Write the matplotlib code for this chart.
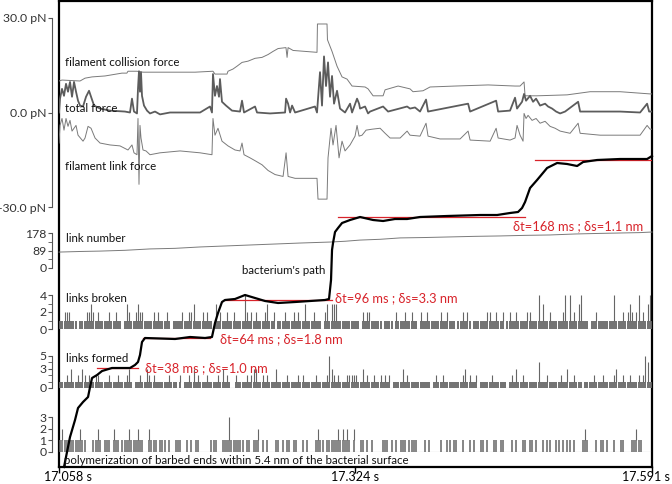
import numpy as np
import matplotlib.pyplot as plt
from matplotlib.transforms import ScaledTranslation

plt.rcParams['font.family'] = ['Lato', 'DejaVu Sans']

# time is in ms after 17.058 s
x_max_ms = 533
xtick_ms = [0, 266, 533]
xtick_labels = ['17.058 s', '17.324 s', '17.591 s']

# forces (ms, pN)
collision_force = [(0, 10.0), (2.7, 10.3), (18.9, 10.0), (23.4, 10.9), (29.7, 11.3), (41.4, 11.6),
                   (56.6, 12.5), (61, 12.5), (62, 13.1), (70.1, 13.1), (75.5, 12.8), (101.6, 12.8),
                   (122.3, 12.8), (138.4, 13.1), (140.2, 12.2), (151, 12.2), (151.9, 13.1), (156.4, 13.8),
                   (160, 14.7), (164.5, 15.9), (169.9, 16.3), (176.2, 17.2), (182.5, 17.5), (187.9, 18.4),
                   (192.4, 19.4), (196.9, 20.3), (204, 20.6), (205, 17.5), (205.9, 20.6), (210.4, 19.7),
                   (231.9, 19.1), (232.3, 28.1), (240.9, 28.1), (241.3, 23.1), (245.4, 19.4), (249.9, 14.7),
                   (254.4, 11.3), (258.9, 10.6), (263.4, 8.4), (275.1, 8.1), (277.8, 7.5), (282.3, 5.3),
                   (291.3, 5.3), (293.1, 7.2), (304.8, 8.4), (315.5, 7.5), (318.2, 6.6), (327.2, 6.9),
                   (333.5, 8.1), (356, 8.4), (385.7, 8.75), (409.9, 8.4), (414.4, 8.4), (418, 9.7),
                   (418.9, 5.3), (429.7, 5.3), (456.7, 5.6), (477.4, 6.6), (504.3, 6.6), (531.3, 5.9),
                   (533, 5.9)]

total_force = [(0, 0), (0.9, 4.4), (2.7, 7.5), (4.5, 5.3), (6.3, 9.1), (8.1, 6.6), (9.9, 9.7),
               (11.7, 5.0), (13.5, 9.7), (15.3, 6.6), (17.1, 3.75), (18.9, 2.2), (21.6, 1.9), (24.3, 5.0),
               (27, 6.9), (28.8, 5.0), (31.5, 2.2), (36.9, 1.25), (45.8, 0.6), (59.3, 0.3), (63.8, 0),
               (65.6, 4.4), (67.4, 0.3), (70.1, -0.3), (71, 7.5), (71.9, 13.1), (72.8, 6.6), (73.7, 12.8),
               (74.6, 5.3), (76.4, 2.2), (79.1, 0.6), (81.8, -0.3), (86.3, 0.3), (90.8, -0.6), (99.8, 0),
               (113.3, 0), (126.8, 0), (135.7, 1.9), (137.5, 0), (138.4, 12.2), (140.2, 5.3), (142, 8.4),
               (143.8, 5.0), (144.7, 10.6), (146.5, 3.4), (150.1, 2.2), (155.5, 0.6), (162.7, 0.3),
               (164.5, 3.75), (166.3, 0), (176.2, 1.9), (178, 0), (189.7, -0.3), (203.2, 0), (204.1, 4.4),
               (205.9, 2.8), (207.7, 0), (209.5, 2.2), (212.2, 0), (230.1, 1.9), (231.9, 0), (234.6, 12.8),
               (236.4, 2.2), (238.2, 17.8), (240, 8.4), (241.8, 15.9), (243.6, 5.0), (245.4, 11.6),
               (247.2, 2.8), (249.9, 6.9), (252.6, 1.25), (257.1, 0), (261.6, 2.8), (263.4, 0),
               (267.9, 4.4), (269.7, 2.8), (270.6, 1.25), (275.1, 1.9), (277.8, -0.3), (279.6, 0.3),
               (291.3, 1.9), (295.8, 0.3), (312.9, 1.9), (315.5, 1.25), (320, 1.6), (324.5, 0.3),
               (329.9, 4.1), (331.7, 0.3), (367.7, 2.8), (369.5, 0.3), (392.9, 3.75), (394.7, 0.3),
               (405.4, 0.6), (409.9, 4.7), (411.7, 1.25), (416.2, 3.4), (418, 5.9), (419.8, 3.75),
               (423.4, 5.3), (426.1, 3.4), (428.8, 4.4), (432.4, 2.2), (436.9, 2.8), (439.6, 1.9),
               (443.2, 1.25), (446.8, 0.3), (450.4, -0.3), (454.9, 0.3), (466.6, 3.4), (468.4, 0.3),
               (486.4, 0.3), (504.3, 0.3), (522.3, 0), (528.6, 2.8), (530.4, 0.3), (533, 0.3)]

link_force = [(0, -9.7), (0.9, -4.1), (2.7, -1.9), (4.5, -5.6), (6.3, -1.9), (8.1, -4.4), (9.9, -2.5),
              (11.7, -5.9), (15.3, -4.1), (17.1, -7.2), (21.6, -9.1), (23.4, -8.1), (26.1, -4.4),
              (28.8, -5.0), (32.4, -8.1), (36.9, -9.7), (45.8, -10.3), (54.8, -10.6), (62, -11.9),
              (65.6, -10.3), (67.4, -12.8), (70.1, -13.4), (71, -1.9), (71.9, -22.8), (72.8, -4.1),
              (73.7, -8.1), (75.5, -11.9), (78.2, -12.2), (81.8, -13.4), (90.8, -12.8), (108.8, -12.2),
              (126.8, -12.8), (137.5, -13.4), (138.4, -1.9), (140.2, -7.2), (142.9, -5.0), (146.5, -9.1),
              (151.9, -10.6), (158.2, -11.9), (162.7, -12.2), (164.5, -9.7), (166.3, -13.4),
              (171.7, -14.4), (176.2, -15.3), (182.5, -16.6), (187.9, -18.4), (194.2, -19.7),
              (201.4, -20.3), (204.1, -12.8), (205.9, -20.3), (212.2, -20.9), (231.9, -20.9),
              (232.8, -27.5), (240.9, -27.5), (241.8, -14.4), (244.5, -5.0), (246.3, -10.3), (249, -4.1),
              (251.7, -14.4), (254.4, -9.1), (257.1, -12.2), (261.6, -10.3), (266.1, -7.5), (267.9, -4.1),
              (269.7, -7.5), (272.4, -7.2), (276, -5.6), (281.4, -5.3), (288.6, -5.0), (293.1, -6.6),
              (297.6, -8.1), (306.6, -8.1), (312.9, -5.9), (315.5, -7.2), (324.5, -7.5), (329.9, -3.4),
              (331.7, -7.5), (342.5, -8.4), (360.5, -8.4), (367.7, -5.9), (369.5, -8.75), (387.5, -9.1),
              (392.9, -5.0), (394.7, -8.1), (405.4, -8.75), (409.9, -8.1), (411.7, -4.1), (414.4, -7.2),
              (417.1, -9.1), (418, -0.3), (419.8, -1.9), (421.6, -0.9), (425.2, -2.5), (428.8, -1.9),
              (432.4, -3.4), (436.9, -2.8), (441.4, -4.4), (445.9, -5.0), (450.4, -5.9), (459.4, -6.6),
              (466.6, -3.4), (468.4, -6.6), (486.4, -7.2), (504.3, -7.2), (522.3, -7.2), (528.6, -4.1),
              (531.3, -5.3), (533, -5.3)]

# number of links (ms, count)
link_number = [(0, 81), (18.9, 84), (36.9, 86), (59.3, 90), (81.8, 97), (104.3, 100), (126.8, 107),
               (149.2, 112), (171.7, 117), (194.2, 122), (216.7, 127), (243.6, 132), (257.1, 136),
               (270.6, 142), (288.6, 146), (306.6, 153), (329, 155), (351.5, 158), (374, 161),
               (396.5, 163), (419, 166), (441.4, 168), (463.9, 173), (486.4, 176), (504.3, 178),
               (522.3, 180), (533, 183)]

# bacterium position (ms, nm)
path = [(4.5, 0), (7.2, 1.5), (9.9, 3.0), (14.4, 4.7), (17.1, 5.9), (21.6, 6.5), (26.1, 7.0),
        (27.9, 8.0), (29.7, 8.9), (34.2, 9.2), (38.7, 9.6), (47.6, 9.9), (63.8, 9.9), (68.3, 10.2),
        (71, 10.5), (72.8, 11.2), (74.6, 12.5), (77.3, 12.9), (104.3, 12.8), (117.8, 13.0),
        (131.3, 12.9), (137.5, 13.0), (140.2, 14.4), (142.9, 15.4), (146.5, 16.5), (149.2, 16.7),
        (158.2, 16.8), (167.2, 17.2), (176.2, 16.9), (185.2, 16.6), (196.9, 16.4), (212.2, 16.5),
        (239.1, 16.7), (242.7, 16.8), (244.5, 18.7), (245.4, 21.7), (246.3, 22.4), (248.1, 23.5),
        (250.8, 23.9), (254.4, 24.4), (261.6, 24.7), (270.6, 25.0), (282.3, 24.7), (291.3, 24.6),
        (302, 24.8), (312.9, 24.8), (324.5, 25.0), (348.8, 25.1), (378.5, 25.2), (393.8, 25.2),
        (405.4, 25.4), (412.6, 25.5), (416.2, 25.9), (418.9, 26.5), (423.4, 27.9), (429.7, 28.7),
        (438.7, 29.9), (447.7, 30.4), (456.7, 30.3), (465.7, 30.1), (471.1, 30.5), (483.7, 30.7),
        (504.3, 30.8), (528.6, 30.8), (533, 31.1)]

# pauses of the path: start ms, end ms, level nm
pauses = [(34.2, 71.0, 9.9), (75.5, 135.7, 12.9), (149.2, 245.4, 16.7),
          (250.8, 418.9, 25.0), (427.9, 533, 30.7)]
pause_labels = ['δt=38 ms ; δs=1.0 nm', 'δt=64 ms ; δs=1.8 nm',
                'δt=96 ms ; δs=3.3 nm', 'δt=168 ms ; δs=1.1 nm']

# event counts per 2 ms bin
bin_ms = 2
links_broken = ("1122211101" "1122321211" "1121121101" "3211232211" "1121211121"
                "0111121122" "3111212110" "3121121121" "1114212121" "1123112011"
                "1211121211" "3111211102" "3133311111" "1111102122" "1111101111"
                "0211121121" "1021121111" "1211211101" "1212101111" "1122112112"
                "0121121111" "2211141311" "2111112414" "1213411101" "1211111114"
                "1112123212" "4121341")
links_formed = ("1112131121" "3212112211" "1121112111" "2310112113" "2121111112"
                "1110201121" "3121112111" "1213121002" "1111212331" "1212111311"
                "1121111212" "1111121111" "2532121112" "2222113121" "1211212120"
                "1111312111" "1111111012" "1121111111" "1231211201" "1111211111"
                "1012131121" "1111141112" "1111121131" "1211101111" "2111211112"
                "3112112111" "2125411")
polymerization = ("1211111112" "1100011210" "1110211011" "1211121100" "2111011101"
                  "0011100101" "0110000011" "1001113111" "1110110112" "0101000110"
                  "1011011001" "0100012110" "1111121212" "1020011010" "1000011101"
                  "0101110111" "1000101000" "0100110110" "0100101001" "1010011011"
                  "0001010011" "0110100101" "1001101011" "0100012100" "0101101001"
                  "0011000112" "1100000")

W, H = 672, 484
LEFT, RIGHT = 59, 652
fig = plt.figure(figsize=(W / 100, H / 100), dpi=100)


def px_axes(top, bottom):
    return fig.add_axes([LEFT / W, 1 - bottom / H, (RIGHT - LEFT) / W, (bottom - top) / H])


def left_scale(ax, lo, hi, major, labels, minor=()):
    for s in ['top', 'right', 'bottom']:
        ax.spines[s].set_visible(False)
    ax.spines['left'].set_position(('outward', 5))
    ax.spines['left'].set_bounds(lo, hi)
    ax.spines['left'].set_color('#555555')
    ax.set_xlim(0, x_max_ms)
    ax.set_ylim(lo, hi)
    ax.set_xticks([])
    ax.set_yticks(major)
    ax.set_yticklabels(labels)
    ax.set_yticks(minor, minor=True)
    ax.tick_params(axis='y', which='both', length=3, color='#555555', labelsize=8.8,
                   labelcolor='#333333', pad=1)
    ax.patch.set_alpha(0)


def event_band(ax, counts, lw_base=1.3):
    c = np.array([int(ch) for ch in counts])
    t = np.arange(len(c)) * bin_ms + bin_ms / 2
    k = c > 0
    ax.axhline(0, color='#888888', lw=0.8)
    ax.vlines(t[k], 0, 1, color='#666666', lw=lw_base)
    k2 = c > 1
    ax.vlines(t[k2], 1, c[k2], color='#666666', lw=0.8)


# outer frame with time axis
frame = px_axes(1, 467)
frame.set_xlim(0, x_max_ms)
frame.set_yticks([])
frame.set_xticks(xtick_ms)
frame.set_xticklabels(xtick_labels)
frame.tick_params(axis='x', length=4, width=1, labelsize=9, pad=0.5)
shifts = [9, 0, -6]
for lab, dx in zip(frame.get_xticklabels(), shifts):
    lab.set_transform(lab.get_transform() + ScaledTranslation(dx / 100, 2.5 / 100, fig.dpi_scale_trans))
for s in frame.spines.values():
    s.set_linewidth(1.6)

# forces
ax_f = px_axes(18, 207)
left_scale(ax_f, -30, 30, [-30, 0, 30], ['-30.0 pN', '0.0 pN', '30.0 pN'])
for series, col, lw in [(collision_force, '#7a7a7a', 0.7), (link_force, '#7a7a7a', 0.7),
                        (total_force, '#5c5c5c', 1.3)]:
    t, v = zip(*series)
    ax_f.plot(t, v, color=col, lw=lw)

# link number
ax_n = px_axes(233, 268)
left_scale(ax_n, 0, 178, [0, 89, 178], ['0', '89', '178'], [44.5, 133.5])
t, v = zip(*link_number)
ax_n.plot(t, v, color='#7a7a7a', lw=0.7, clip_on=False)

# links broken
ax_b = px_axes(295, 329)
left_scale(ax_b, 0, 4, [0, 2, 4], ['0', '2', '4'], [1, 3])
event_band(ax_b, links_broken)

# links formed
ax_l = px_axes(356, 388)
left_scale(ax_l, 0, 5, [0, 3, 5], ['0', '3', '5'], [1, 2, 4])
event_band(ax_l, links_formed)

# polymerization
ax_p = px_axes(417, 452)
left_scale(ax_p, 0, 3, [0, 1, 2, 3], ['0', '1', '2', '3'])
event_band(ax_p, polymerization, lw_base=1.1)

# bacterium's path over everything
ax_s = px_axes(1, 467)
ax_s.set_xlim(0, x_max_ms)
ax_s.set_ylim(0, 46.6)
ax_s.axis('off')
red = '#d8232a'
for t0, t1, lev in pauses:
    ax_s.plot([t0, t1], [lev, lev], color=red, lw=0.9)
t, v = zip(*path)
ax_s.plot(t, v, color='black', lw=1.6, clip_on=False)

ax_s.text(77.3, 9.9, pause_labels[0], color=red, fontsize=9.3, va='center')
ax_s.text(144.7, 12.8, pause_labels[1], color=red, fontsize=9.3, va='center')
ax_s.text(248, 16.9, pause_labels[2], color=red, fontsize=9.3, va='center')
ax_s.text(525, 24.1, pause_labels[3], color=red, fontsize=9.3, va='center', ha='right')

# row labels
labels = [("filament collision force", 65, 62), ("total force", 65, 108),
          ("filament link force", 65, 167), ("link number", 66, 238),
          ("bacterium's path", 242, 270), ("links broken", 66, 299),
          ("links formed", 66, 359),
          ("polymerization of barbed ends within 5.4 nm of the bacterial surface", 64, 460)]
for txt, x, y in labels:
    fig.text(x / W, 1 - y / H, txt, fontsize=8.3, color='#111111', va='center')

fig.savefig('out.png', dpi=100)
